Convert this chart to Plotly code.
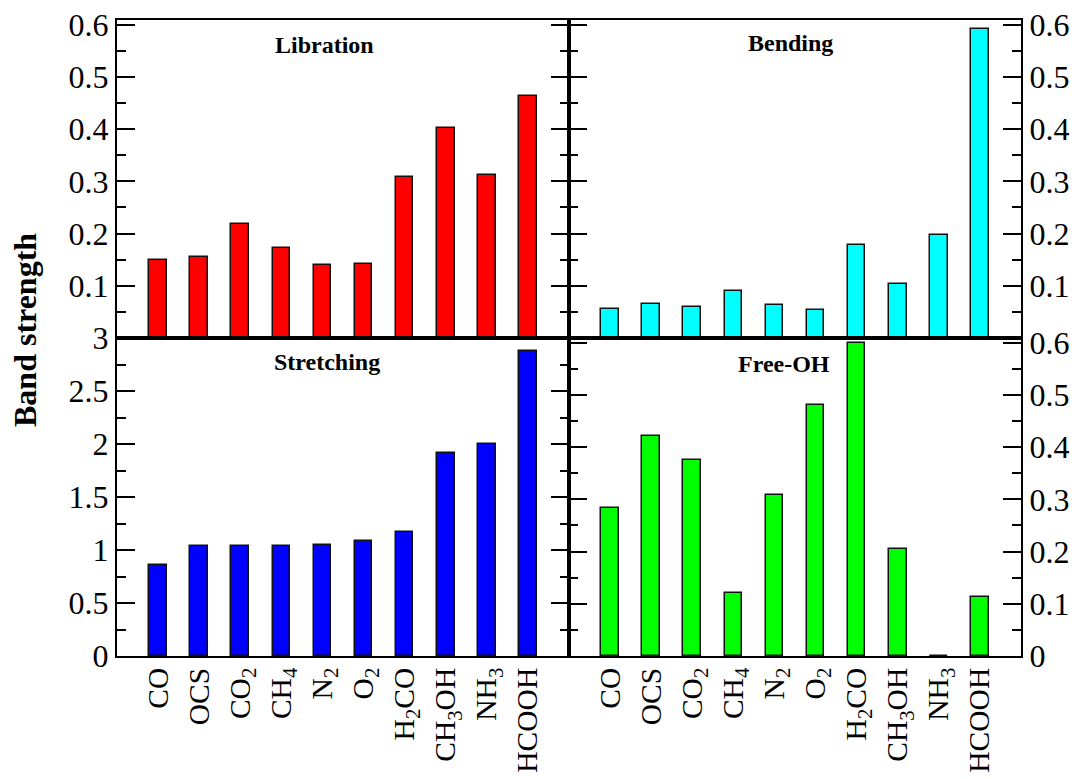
import plotly.graph_objects as go

# Molecules (x categories) and band strengths for each vibrational mode
molecules = ["CO", "OCS", "CO<sub>2</sub>", "CH<sub>4</sub>", "N<sub>2</sub>", "O<sub>2</sub>",
             "H<sub>2</sub>CO", "CH<sub>3</sub>OH", "NH<sub>3</sub>", "HCOOH"]
libration = [0.150, 0.155, 0.219, 0.173, 0.139, 0.141, 0.309, 0.402, 0.312, 0.464]
bending = [0.056, 0.065, 0.059, 0.090, 0.063, 0.054, 0.178, 0.104, 0.198, 0.592]
stretching = [0.863, 1.036, 1.036, 1.036, 1.045, 1.086, 1.167, 1.914, 2.002, 2.874]
free_oh = [0.284, 0.422, 0.376, 0.120, 0.309, 0.481, 0.599, 0.205, 0.0, 0.113]

small_ticks = [0.1, 0.2, 0.3, 0.4, 0.5, 0.6]
small_ticks_zero = [0, 0.1, 0.2, 0.3, 0.4, 0.5, 0.6]
stretch_ticks = [0, 0.5, 1, 1.5, 2, 2.5, 3]
stretch_labels = ["0", "0.5", "1", "1.5", "2", "2.5", "3"]

FONT = "Liberation Serif"

panels = [
    # (values, colour, x axis, y axis, title)
    (libration, "#ff0000", "x", "y", "Libration"),
    (bending, "#00ffff", "x2", "y2", "Bending"),
    (stretching, "#0000ff", "x3", "y3", "Stretching"),
    (free_oh, "#00ff00", "x4", "y4", "Free-OH"),
]

fig = go.Figure()
for vals, colour, xa, ya, _ in panels:
    fig.add_trace(go.Bar(
        x=molecules, y=vals, xaxis=xa, yaxis=ya, width=0.43,
        marker=dict(color=colour, line=dict(color="#111111", width=1.5)),
        showlegend=False,
    ))

frame = dict(showline=True, linecolor="black", linewidth=2, mirror="ticks",
             showgrid=False, zeroline=False)
tickfont = dict(family=FONT, size=32, color="black")


def xaxis(domain, anchor, labels):
    return dict(domain=domain, anchor=anchor, type="category", range=[-1, 10],
                ticks="", showticklabels=labels, tickangle=-90, ticklabelstandoff=-2,
                tickfont=dict(family=FONT, size=29.5, color="black"), **frame)


def yaxis(domain, anchor, rng, tickvals, ticktext, minor_dtick, side):
    return dict(domain=domain, anchor=anchor, range=rng, side=side,
                tickmode="array", tickvals=tickvals, ticktext=ticktext,
                ticks="inside", ticklen=18, tickwidth=2, tickcolor="black",
                minor=dict(ticks="inside", ticklen=9, tickwidth=2, tickcolor="black",
                           dtick=minor_dtick, tick0=0),
                tickfont=tickfont, **frame)


top_text = [str(v) for v in small_ticks]
zero_text = ["0"] + top_text

fig.update_layout(
    width=1075, height=779,
    margin=dict(l=117, r=54, t=20, b=123, autoexpand=False),
    paper_bgcolor="white", plot_bgcolor="white",
    bargap=0,
    xaxis=xaxis([0, 0.5], "y", False),
    yaxis=yaxis([0.5, 1], "x", [0, 0.609], small_ticks, top_text, 0.05, "left"),
    xaxis2=xaxis([0.5, 1], "y2", False),
    yaxis2=yaxis([0.5, 1], "x2", [0, 0.609], small_ticks, top_text, 0.05, "right"),
    xaxis3=xaxis([0, 0.5], "y3", True),
    yaxis3=yaxis([0, 0.5], "x3", [0, 3], stretch_ticks, stretch_labels, 0.25, "left"),
    xaxis4=xaxis([0.5, 1], "y4", True),
    yaxis4=yaxis([0, 0.5], "x4", [0, 0.609], small_ticks_zero, zero_text, 0.05, "right"),
)

title_pos = {"Libration": (0.229, 0.961), "Bending": (0.745, 0.9646),
             "Stretching": (0.2327, 0.4627), "Free-OH": (0.7376, 0.4594)}
for _, _, _, _, title in panels:
    px, py = title_pos[title]
    fig.add_annotation(x=px, y=py, xref="paper", yref="paper", text="<b>%s</b>" % title,
                       showarrow=False, xanchor="center", yanchor="middle",
                       font=dict(family=FONT, size=24, color="black"))

# vertical axis title, placed left of the tick labels
fig.add_annotation(x=(25 - 117) / 904, y=(656 - 330) / 636, xref="paper", yref="paper",
                   text="<b>Band strength</b>", showarrow=False, textangle=-90,
                   xanchor="center", yanchor="middle",
                   font=dict(family=FONT, size=32, color="black"))

fig.write_html("out.html")
